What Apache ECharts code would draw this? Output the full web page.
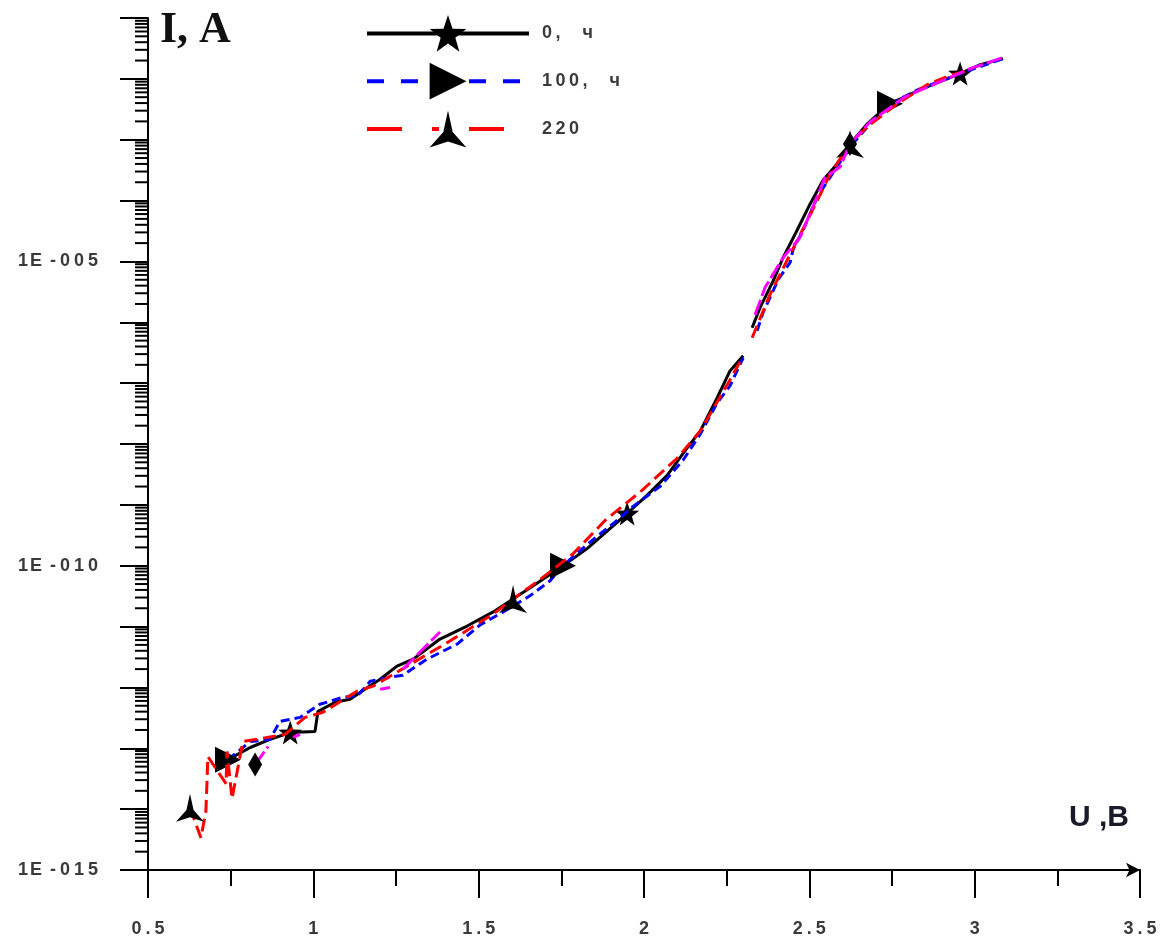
<!DOCTYPE html>
<html>
<head>
<meta charset="utf-8">
<script src="https://cdn.jsdelivr.net/npm/echarts@6.0.0/dist/echarts.min.js"></script>
<style>
  html, body { margin: 0; padding: 0; background: #ffffff; }
  #chart { width: 1169px; height: 939px; }
</style>
</head>
<body>
<div id="chart"></div>
<script>
// Current–voltage curves after ageing: U (V) and I (A); null marks a break in a curve.
const u0 = [0.742, 0.809, 0.869, 0.930, 1.005, 1.014, 1.066, 1.111, 1.156, 1.202, 1.253, 1.302, 1.383, 1.465, 1.544, 1.604, 1.665, 1.755, 1.828, 1.897, 1.949, 2.009, 2.070, 2.130, 2.170, 2.221, 2.260, 2.300, 2.313, 2.327, 2.351, 2.391, 2.421, 2.463, 2.502, 2.542, 2.584, 2.623, 2.675, 2.744, 2.835, 2.956, 3.017, 3.086];
const i0 = [6.5e-14, 1.03e-13, 1.40e-13, 1.82e-13, 1.89e-13, 4.05e-13, 5.70e-13, 6.38e-13, 9.3e-13, 1.36e-12, 2.24e-12, 2.92e-12, 6.24e-12, 1.02e-11, 1.74e-11, 2.85e-11, 4.68e-11, 1.0e-10, 1.91e-10, 4.08e-10, 7.21e-10, 1.43e-9, 3.05e-9, 8.53e-9, 1.63e-8, 5.70e-8, 1.59e-7, 2.81e-7, null, 8.15e-7, 1.74e-6, 4.85e-6, 1.16e-5, 3.25e-5, 8.73e-5, 2.17e-4, 3.99e-4, 8.53e-4, 1.82e-3, 3.90e-3, 6.64e-3, 1.22e-2, 1.71e-2, 2.15e-2];

const u100 = [0.742, 0.809, 0.869, 0.899, 0.960, 1.020, 1.090, 1.132, 1.172, 1.232, 1.271, 1.344, 1.435, 1.504, 1.574, 1.655, 1.716, 1.755, 1.786, 1.846, 1.907, 1.967, 2.049, 2.118, 2.170, 2.221, 2.260, 2.300, 2.320, 2.342, 2.360, 2.406, 2.442, 2.451, 2.481, 2.524, 2.563, 2.623, 2.684, 2.744, 2.829, 2.956, 3.086];
const i100 = [6.5e-14, 1.29e-13, 1.40e-13, 2.77e-13, 3.22e-13, 5.28e-13, 6.89e-13, 7.16e-13, 1.26e-12, 1.47e-12, 1.59e-12, 2.92e-12, 5.16e-12, 1.06e-11, 1.74e-11, 3.20e-11, 5.65e-11, 1.0e-10, 1.41e-10, 2.69e-10, 4.93e-10, 9.42e-10, 2.01e-9, 5.41e-9, 1.45e-8, 4.71e-8, 9.0e-8, 2.61e-7, null, 7.26e-7, 1.44e-6, 5.05e-6, 9.62e-6, 1.58e-5, 3.25e-5, 1.14e-4, 2.43e-4, 7.6e-4, 1.82e-3, 3.90e-3, 6.64e-3, 1.22e-2, 2.15e-2];

const u220 = [0.627, 0.660, 0.675, 0.678, 0.681, 0.736, 0.739, 0.754, 0.787, 0.914, 0.975, 1.029, 1.132, 1.181, 1.413, 1.544, 1.604, 1.677, 1.786, 1.882, 1.994, 2.100, 2.170, 2.260, 2.297, 2.312, 2.327, 2.381, 2.442, 2.502, 2.563, 2.623, 2.675, 2.766, 2.856, 2.917, 2.990];
const i220 = [1.05e-14, 3.4e-15, 9.1e-15, 2.43e-14, 7.3e-14, 2.62e-14, 8.85e-14, 1.49e-14, 1.29e-13, 1.69e-13, 3.22e-13, 3.90e-13, 8.65e-13, 1.05e-12, 5.78e-12, 1.61e-11, 2.85e-11, 5.44e-11, 1.58e-10, 5.53e-10, 1.73e-9, 5.83e-9, 1.63e-8, 1.13e-7, 2.61e-7, null, 5.57e-7, 2.85e-6, 1.31e-5, 5.74e-5, 2.73e-4, 8.53e-4, 1.63e-3, 3.90e-3, 8.0e-3, 1.09e-2, 1.45e-2];

// Fourth curve (unlabelled), visible only in short pieces
const uExtra = [0.824, 0.863, 0.900, 0.939, 0.960, 1.100, 1.202, 1.232, 1.250, 1.271, 1.383, 1.900, 2.336, 2.366, 2.421, 2.472, 2.548, 2.593, 2.623, 2.684, 2.790, 2.896, 2.987, 3.086];
const iExtra = [5.4e-14, 1.07e-13, null, 1.51e-13, 1.69e-13, null, 9.3e-13, 1.0e-12, null, 2.0e-12, 8.15e-12, null, 1.33e-6, 3.72e-6, 1.16e-5, 2.49e-5, 2.43e-4, 3.56e-4, 8.53e-4, 1.97e-3, 5.08e-3, 9.0e-3, 1.47e-2, 2.24e-2];

// Voltages at which each curve carries its marker
const mark0 = [0.930, 1.949, 2.956];
const mark100 = [0.742, 1.755, 2.744];
const mark220 = [0.627, 1.604, 2.623];
const markExtra = [0.824, 2.623];

const seriesNames = ['0, ч', '100, ч', '220'];
const labelledDecades = [-15, -10, -5];
const minorFactors = [2, 3, 4, 5, 6, 7, 8, 9];

const STAR = 'path://M0,-10 L2.35,-3.24 L9.51,-3.09 L3.8,1.24 L5.88,8.09 L0,4 L-5.88,8.09 L-3.8,1.24 L-9.51,-3.09 L-2.35,-3.24 Z';
const TRIANGLE = 'path://M0,0 L10,5 L0,10 Z';
const TRISTAR = 'path://M0,-10 L2.2,-1.3 L8.66,5 L0,2.6 L-8.66,5 L-2.2,-1.3 Z';

// log10 of the current, with breaks kept as gaps
function toPoints(us, is) {
  return us.map((u, k) => [u, is[k] == null ? '-' : Math.log10(is[k])]);
}

function markSize(marks, size) {
  return function (val) {
    return marks.indexOf(val[0]) >= 0 ? size : 0;
  };
}

// spreads characters out, one rich token per character
function spaced(text, key) {
  return String(text).split('').map(function (c) { return '{' + key + '|' + c + '}'; }).join('');
}

const minorTicks = [];
for (let d = -15; d < -1; d++) {
  minorFactors.forEach(function (f) { minorTicks.push([0.5, d + Math.log10(f)]); });
}

const chart = echarts.init(document.getElementById('chart'));

const textColor = '#3a3a3a';
const labelFont = 'Liberation Sans, Arial, sans-serif';

chart.setOption({
  animation: false,
  backgroundColor: '#ffffff',
  title: [
    {
      text: 'I, A', left: 155, top: 4,
      textStyle: { fontFamily: 'Liberation Serif, Times New Roman, serif', fontWeight: 'bold', fontSize: 44, color: '#111111' }
    },
    {
      text: 'U ,B', left: 1064, top: 798,
      textStyle: { fontFamily: labelFont, fontWeight: 'bold', fontSize: 30, color: '#1a1a2a' }
    }
  ],
  legend: {
    orient: 'vertical',
    left: 360,
    top: 10,
    itemWidth: 162,
    itemHeight: 46,
    itemGap: 11,
    formatter: function (name) { return spaced(name, 'c'); },
    textStyle: {
      padding: [0, 0, 0, 8],
      fontSize: 18,
      rich: { c: { fontFamily: labelFont, fontSize: 18, fontWeight: 'bold', color: textColor, width: 13.5 } }
    },
    data: [
      { name: seriesNames[0], lineStyle: { width: 4, type: 'solid' } },
      { name: seriesNames[1], lineStyle: { width: 4, type: [17, 17] } },
      { name: seriesNames[2], lineStyle: { width: 4, type: [35, 30, 7, 30] } }
    ]
  },
  grid: { left: 148, right: 29, top: 18, bottom: 69, containLabel: false },
  xAxis: {
    type: 'value',
    min: 0.5,
    max: 3.5,
    interval: 0.5,
    axisLine: { show: true, onZero: false, symbol: ['none', 'arrow'], symbolSize: [11, 14], lineStyle: { color: '#000', width: 2 } },
    axisTick: { show: true, length: 28, lineStyle: { color: '#000', width: 2 } },
    minorTick: { show: true, splitNumber: 2, length: 16, lineStyle: { color: '#000', width: 2 } },
    splitLine: { show: false },
    axisLabel: {
      margin: 50,
      fontSize: 18,
      formatter: function (v) { return spaced(v, 'c'); },
      rich: { c: { fontFamily: labelFont, fontSize: 18, fontWeight: 'bold', color: textColor, width: 11.5 } }
    }
  },
  yAxis: {
    type: 'value',
    min: -15,
    max: -1,
    interval: 1,
    axisLine: { show: true, onZero: false, lineStyle: { color: '#000', width: 2 } },
    axisTick: { show: true, length: 28, lineStyle: { color: '#000', width: 2 } },
    splitLine: { show: false },
    axisLabel: {
      margin: 50,
      fontSize: 18,
      formatter: function (v) {
        if (labelledDecades.indexOf(v) < 0) return '';
        return spaced('1E-' + String(-v).padStart(3, '0'), 'c');
      },
      rich: { c: { fontFamily: labelFont, fontSize: 18, fontWeight: 'bold', color: textColor, width: 14 } }
    }
  },
  series: [
    {
      type: 'custom',
      silent: true,
      clip: false,
      data: minorTicks,
      renderItem: function (params, api) {
        const p = api.coord([api.value(0), api.value(1)]);
        return {
          type: 'line',
          shape: { x1: p[0] - 13, y1: p[1], x2: p[0], y2: p[1] },
          style: { stroke: '#000', lineWidth: 2 }
        };
      }
    },
    {
      name: seriesNames[0],
      type: 'line',
      data: toPoints(u0, i0),
      connectNulls: false,
      symbol: STAR,
      symbolSize: markSize(mark0, 24),
      itemStyle: { color: '#000000' },
      lineStyle: { color: '#000000', width: 3 },
      z: 2
    },
    {
      name: seriesNames[1],
      type: 'line',
      data: toPoints(u100, i100),
      connectNulls: false,
      symbol: TRIANGLE,
      symbolSize: markSize(mark100, 26),
      itemStyle: { color: '#000000' },
      lineStyle: { color: '#0000ff', width: 3, type: [9, 5] },
      z: 3
    },
    {
      name: seriesNames[2],
      type: 'line',
      data: toPoints(u220, i220),
      connectNulls: false,
      symbol: TRISTAR,
      symbolSize: markSize(mark220, 28),
      itemStyle: { color: '#000000' },
      lineStyle: { color: '#ff0000', width: 3, type: [13, 6] },
      z: 4
    },
    {
      type: 'line',
      data: toPoints(uExtra, iExtra),
      connectNulls: false,
      symbol: 'diamond',
      symbolSize: function (val) { return markExtra.indexOf(val[0]) >= 0 ? [14, 24] : 0; },
      itemStyle: { color: '#000000' },
      lineStyle: { color: '#ff00ff', width: 3, type: [16, 4] },
      z: 5
    }
  ]
});
</script>
</body>
</html>
